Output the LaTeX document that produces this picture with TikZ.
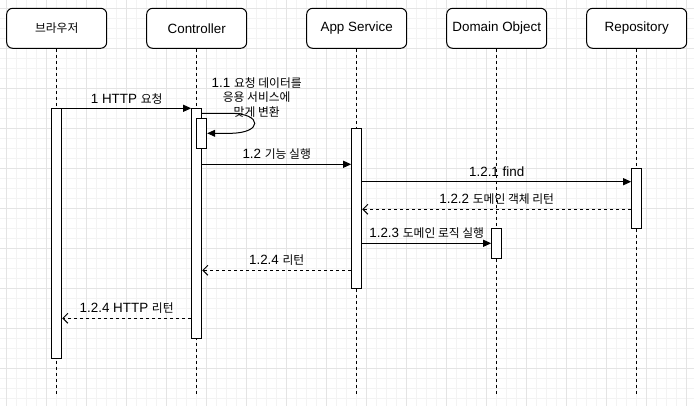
\documentclass[tikz,border=0pt]{standalone}
\usepackage{fontspec}
\setmainfont{Liberation Sans}
\newfontfamily\kr[Scale=0.88]{Noto Sans CJK KR}
\usetikzlibrary{arrows.meta}
\definecolor{gridminor}{HTML}{F3F3F3}
\definecolor{gridmajor}{HTML}{E4E4E4}
\tikzset{
  part/.style={draw, line width=1pt, rounded corners=6pt, minimum width=100pt, minimum height=40pt, fill=white, inner sep=0pt, font=\fontsize{13.4}{15}\selectfont},
  actbar/.style={draw, line width=1pt, fill=white, minimum width=10pt, inner sep=0pt, anchor=north},
  life/.style={line width=1pt, dash pattern=on 3pt off 3pt},
  msg/.style={line width=1pt, -{Triangle[length=8pt,width=7pt]}},
  ret/.style={line width=1pt, dash pattern=on 3pt off 3pt, -{Straight Barb[length=5pt,width=10pt]}},
  lbl/.style={inner sep=0pt, font=\fontsize{13.4}{14.6}\selectfont},
}
\begin{document}
\begin{tikzpicture}[x=1pt,y=-1pt]
\useasboundingbox (0,0) rectangle (694,406);
\fill[white] (0,0) rectangle (694,406);
% grid
\foreach \i in {0,...,70} \draw[gridminor, line width=0.8pt] ({-3.3+10*\i},0) -- ({-3.3+10*\i},406);
\foreach \i in {0,...,41} \draw[gridminor, line width=0.8pt] (0,{-1.7+10*\i}) -- (694,{-1.7+10*\i});
\foreach \i in {0,...,17} \draw[gridmajor, line width=0.8pt] ({6.7+40*\i},0) -- ({6.7+40*\i},406);
\foreach \i in {0,...,9} \draw[gridmajor, line width=0.8pt] (0,{8.3+40*\i}) -- (694,{8.3+40*\i});

% participants
\node[part] (pb) at (56.7,28.3) {\kr 브라우저};
\node[part] (pc) at (196.7,28.3) {Controller};
\node[part] (pa) at (356.7,28.3) {App Service};
\node[part] (pd) at (496.7,28.3) {Domain Object};
\node[part] (pr) at (636.7,28.3) {Repository};

% lifeline ends
\coordinate (eb) at (56.7,396.7);
\coordinate (ec) at (196.7,396.7);
\coordinate (ea) at (356.7,396.7);
\coordinate (ed) at (496.7,396.7);
\coordinate (er) at (636.7,396.7);
\draw[life] (pb.south) -- (eb);
\draw[life] (pc.south) -- (ec);
\draw[life] (pa.south) -- (ea);
\draw[life] (pd.south) -- (ed);
\draw[life] (pr.south) -- (er);

% activation bars
\node[actbar, minimum height=250pt] (bb) at (56.7,108.3) {};
\node[actbar, minimum height=230pt] (bc) at (196.7,108.3) {};
\node[actbar, minimum height=30pt] (bc2) at (201.7,118.3) {};
\node[actbar, minimum height=160pt] (ba) at (356.7,128.3) {};
\node[actbar, minimum height=60pt] (br) at (636.7,168.3) {};
\node[actbar, minimum height=30pt] (bd) at (496.7,228.3) {};

% message levels
\coordinate (m1) at (0,108.3);
\coordinate (s1) at (0,113.3);
\coordinate (s2) at (0,133.3);
\coordinate (m2) at (0,164.3);
\coordinate (m3) at (0,181.7);
\coordinate (m4) at (0,209.3);
\coordinate (m5) at (0,243.3);
\coordinate (m6) at (0,270.3);
\coordinate (m7) at (0,318.3);

% messages
\draw[msg] (bb.east |- m1) -- node[lbl, yshift=9.5pt] {1 HTTP {\kr 요청}} (bc.west |- m1);
\draw[msg] (bc.east |- s1) -- (230,113.3) .. controls (263,113.3) and (263,133.3) .. (230,133.3) -- (bc2.east |- s2);
\node[lbl, align=center] (l11) at (256.7,97.5) {1.1 {\kr 요청 데이터를}\\{\kr 응용 서비스에}\\{\kr 맞게 변환}};
\draw[msg] (bc.east |- m2) -- node[lbl, yshift=10pt] {1.2 {\kr 기능 실행}} (ba.west |- m2);
\draw[msg] (ba.east |- m3) -- node[lbl, yshift=10pt] {1.2.1 find} (br.west |- m3);
\draw[ret] (br.west |- m4) -- node[lbl, yshift=10pt] {1.2.2 {\kr 도메인 객체 리턴}} (ba.east |- m4);
\draw[msg] (ba.east |- m5) -- node[lbl, yshift=10pt] {1.2.3 {\kr 도메인 로직 실행}} (bd.west |- m5);
\draw[ret] (ba.west |- m6) -- node[lbl, yshift=10pt] {1.2.4 {\kr 리턴}} (bc.east |- m6);
\draw[ret] (bc.west |- m7) -- node[lbl, yshift=10pt] {1.2.4 HTTP {\kr 리턴}} (bb.east |- m7);
\end{tikzpicture}
\end{document}
